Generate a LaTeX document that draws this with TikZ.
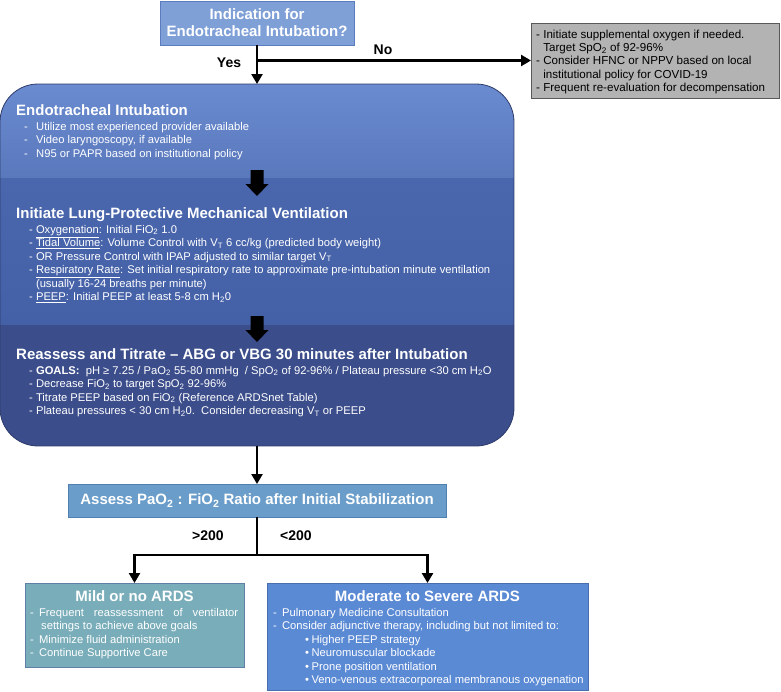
\documentclass[tikz,border=0pt]{standalone}
\usepackage{fontspec}
\setmainfont{Liberation Sans}
\usepackage{xcolor}
\usetikzlibrary{arrows.meta}

\definecolor{indicblue}{HTML}{7F9FD7}
\definecolor{indicedge}{HTML}{5B7DBF}
\definecolor{stepAtop}{HTML}{6A8BD0}
\definecolor{stepAbot}{HTML}{5A78BC}
\definecolor{stepBtop}{HTML}{4A67AE}
\definecolor{stepBbot}{HTML}{4460A6}
\definecolor{stepC}{HTML}{3B4D8B}
\definecolor{stepedge}{HTML}{2E3B6A}
\definecolor{assessblue}{HTML}{6A9DC9}
\definecolor{assessedge}{HTML}{5080B0}
\definecolor{mildteal}{HTML}{79ADB9}
\definecolor{mildedge}{HTML}{5E7FA6}
\definecolor{severeblue}{HTML}{5B8AD5}
\definecolor{severeedge}{HTML}{4A6DAE}
\definecolor{noboxgray}{HTML}{B3B3B3}

\begin{document}
\begin{tikzpicture}[x=1pt,y=-1pt,
    flow/.style={line width=2.9pt,-{Triangle[width=11pt,length=10pt]}},
    flowline/.style={line width=2.9pt},
    box/.style={line width=0.8pt,inner sep=0pt,outer sep=0pt},
    boxtitle/.style={text=white,font=\bfseries\fontsize{15}{17}\selectfont},
    head/.style={anchor=base west,inner sep=0pt,text=white,font=\bfseries\fontsize{15}{17}\selectfont},
    body/.style={anchor=base west,inner sep=0pt,font=\fontsize{11.2}{13.5}\selectfont},
    tag/.style={inner sep=0pt,font=\bfseries\fontsize{14}{16}\selectfont}]
  \useasboundingbox (0,0) rectangle (781,691);

  % question and the no-branch
  \node[box,boxtitle,fill=indicblue,draw=indicedge,minimum width=194,minimum height=44,align=center] (indic) at (257,23) {Indication for\\Endotracheal Intubation?};
  \node[box,fill=noboxgray,draw=black!65,minimum width=248,minimum height=75] (noint) at (655,60.5) {};
  \foreach \t [count=\i] in {- Initiate supplemental oxygen if needed.,
      \phantom{- }Target SpO\textsubscript{2} of 92-96\%,
      - Consider HFNC or NPPV based on local,
      \phantom{- }institutional policy for COVID-19,
      - Frequent re-evaluation for decompensation}
    \node[body,font=\fontsize{11.6}{13.5}\selectfont] (noint-\i) at (536,{38+13.4*(\i-1)}) {\t};

  % intubation / ventilation block
  \node[minimum width=514,minimum height=362,inner sep=0pt,outer sep=0pt] (intub) at (257,265) {};
  \begin{scope}
    \clip[rounded corners=38pt] (intub.north west) rectangle (intub.south east);
    \shade[top color=stepAtop,bottom color=stepAbot] (intub.north west) rectangle (514,178);
    \shade[top color=stepBtop,bottom color=stepBbot] (0,178) rectangle (514,325);
    \fill[stepC] (0,325) rectangle (intub.south east);
  \end{scope}
  \draw[stepedge,line width=0.8pt,rounded corners=38pt] (intub.north west) rectangle (intub.south east);
  \foreach \ya in {170,316}
    \fill (250.5,\ya) -- (263.5,\ya) -- (263.5,\ya+14) -- (268.5,\ya+14) -- (257,\ya+26)
      -- (245.5,\ya+14) -- (250.5,\ya+14) -- cycle;

  \node[head] (headA) at (16,115.5) {Endotracheal Intubation};
  \foreach \t [count=\i] in {Utilize most experienced provider available,
      {Video laryngoscopy, if available},
      N95 or PAPR based on institutional policy}{
    \node[body,text=white] (dashA-\i) at (24,{130+13.6*(\i-1)}) {-};
    \node[body,text=white] (lineA-\i) at (36,{130+13.6*(\i-1)}) {\t};
  }

  \node[head] (headB) at (16,218.5) {Initiate Lung-Protective Mechanical Ventilation};
  \foreach \t [count=\i] in {- \underline{Oxygenation}: Initial FiO\textsubscript{2} 1.0,
      - \underline{Tidal Volume}: Volume Control with V\textsubscript{T} 6 cc/kg (predicted body weight),
      - OR Pressure Control with IPAP adjusted to similar target V\textsubscript{T},
      - \underline{Respiratory Rate}: Set initial respiratory rate to approximate pre-intubation minute ventilation,
      \phantom{- }(usually 16-24 breaths per minute),
      - \underline{PEEP}: Initial PEEP at least 5-8 cm H\textsubscript{2}0}
    \node[body,text=white] (lineB-\i) at (29,{233+13.5*(\i-1)}) {\t};

  \node[head] (headC) at (16,359.5) {Reassess and Titrate – ABG or VBG 30 minutes after Intubation};
  \foreach \t [count=\i] in {{- \textbf{GOALS:}\ \ pH ≥ 7.25 / PaO\textsubscript{2} 55-80 mmHg\ \ / SpO\textsubscript{2} of 92-96\% / Plateau pressure <30 cm H\textsubscript{2}O},
      - Decrease FiO\textsubscript{2} to target SpO\textsubscript{2} 92-96\%,
      - Titrate PEEP based on FiO\textsubscript{2} (Reference ARDSnet Table),
      - Plateau pressures < 30 cm H\textsubscript{2}0.\ \ Consider decreasing V\textsubscript{T} or PEEP}
    \node[body,text=white] (lineC-\i) at (29,{374+13.5*(\i-1)}) {\t};

  % assessment and outcomes
  \node[box,boxtitle,fill=assessblue,draw=assessedge,minimum width=378,minimum height=33] (assess) at (257,500.5) {Assess PaO\textsubscript{2} : FiO\textsubscript{2} Ratio after Initial Stabilization};
  \node[box,fill=mildteal,draw=mildedge,minimum width=219,minimum height=84] (mild) at (134.5,625) {};
  \node[box,fill=severeblue,draw=severeedge,minimum width=321,minimum height=107] (severe) at (427.5,636.5) {};

  \node[boxtitle,inner sep=0pt,anchor=base] (mildtitle) at (134.5,601.5) {Mild or no ARDS};
  \node[body,text=white] (mild-1) at (30,616) {-\hspace{5.2pt}\makebox[199pt][s]{Frequent reassessment of ventilator}};
  \node[body,text=white] (mild-2) at (41,629.5) {settings to achieve above goals};
  \node[body,text=white] (mild-3) at (30,643) {-\hspace{5.2pt}Minimize fluid administration};
  \node[body,text=white] (mild-4) at (30,656.5) {-\hspace{5.2pt}Continue Supportive Care};

  \node[boxtitle,inner sep=0pt,anchor=base] (severetitle) at (427.5,601.5) {Moderate to Severe ARDS};
  \node[body,text=white] (severe-1) at (273,616) {-\hspace{5.2pt}Pulmonary Medicine Consultation};
  \node[body,text=white] (severe-2) at (273,629.5) {-\hspace{5.2pt}Consider adjunctive therapy, including but not limited to:};
  \foreach \t [count=\i from 3] in {Higher PEEP strategy, Neuromuscular blockade,
      Prone position ventilation, Veno-venous extracorporeal membranous oxygenation}
    \node[body,text=white] (severe-\i) at (305,{616+13.5*(\i-1)}) {•\hspace{2.5pt}\t};

  % labels
  \node[tag] (yes) at (229,63) {Yes};
  \node[tag] (no) at (383,50) {No};
  \node[tag] (above) at (208,536) {>200};
  \node[tag] (below) at (296,536) {<200};

  % connectors
  \draw[flow] (indic.south) -- (intub.north);
  \draw[flow] (indic.south |- noint.west) -- (noint.west);
  \draw[flow] (intub.south) -- (assess.north);
  \coordinate (fork) at (257,555);
  \draw[flowline] (assess.south) -- (fork);
  \draw[flow] (fork) -| (mild.north);
  \draw[flow] (fork) -| (severe.north);
\end{tikzpicture}
\end{document}
